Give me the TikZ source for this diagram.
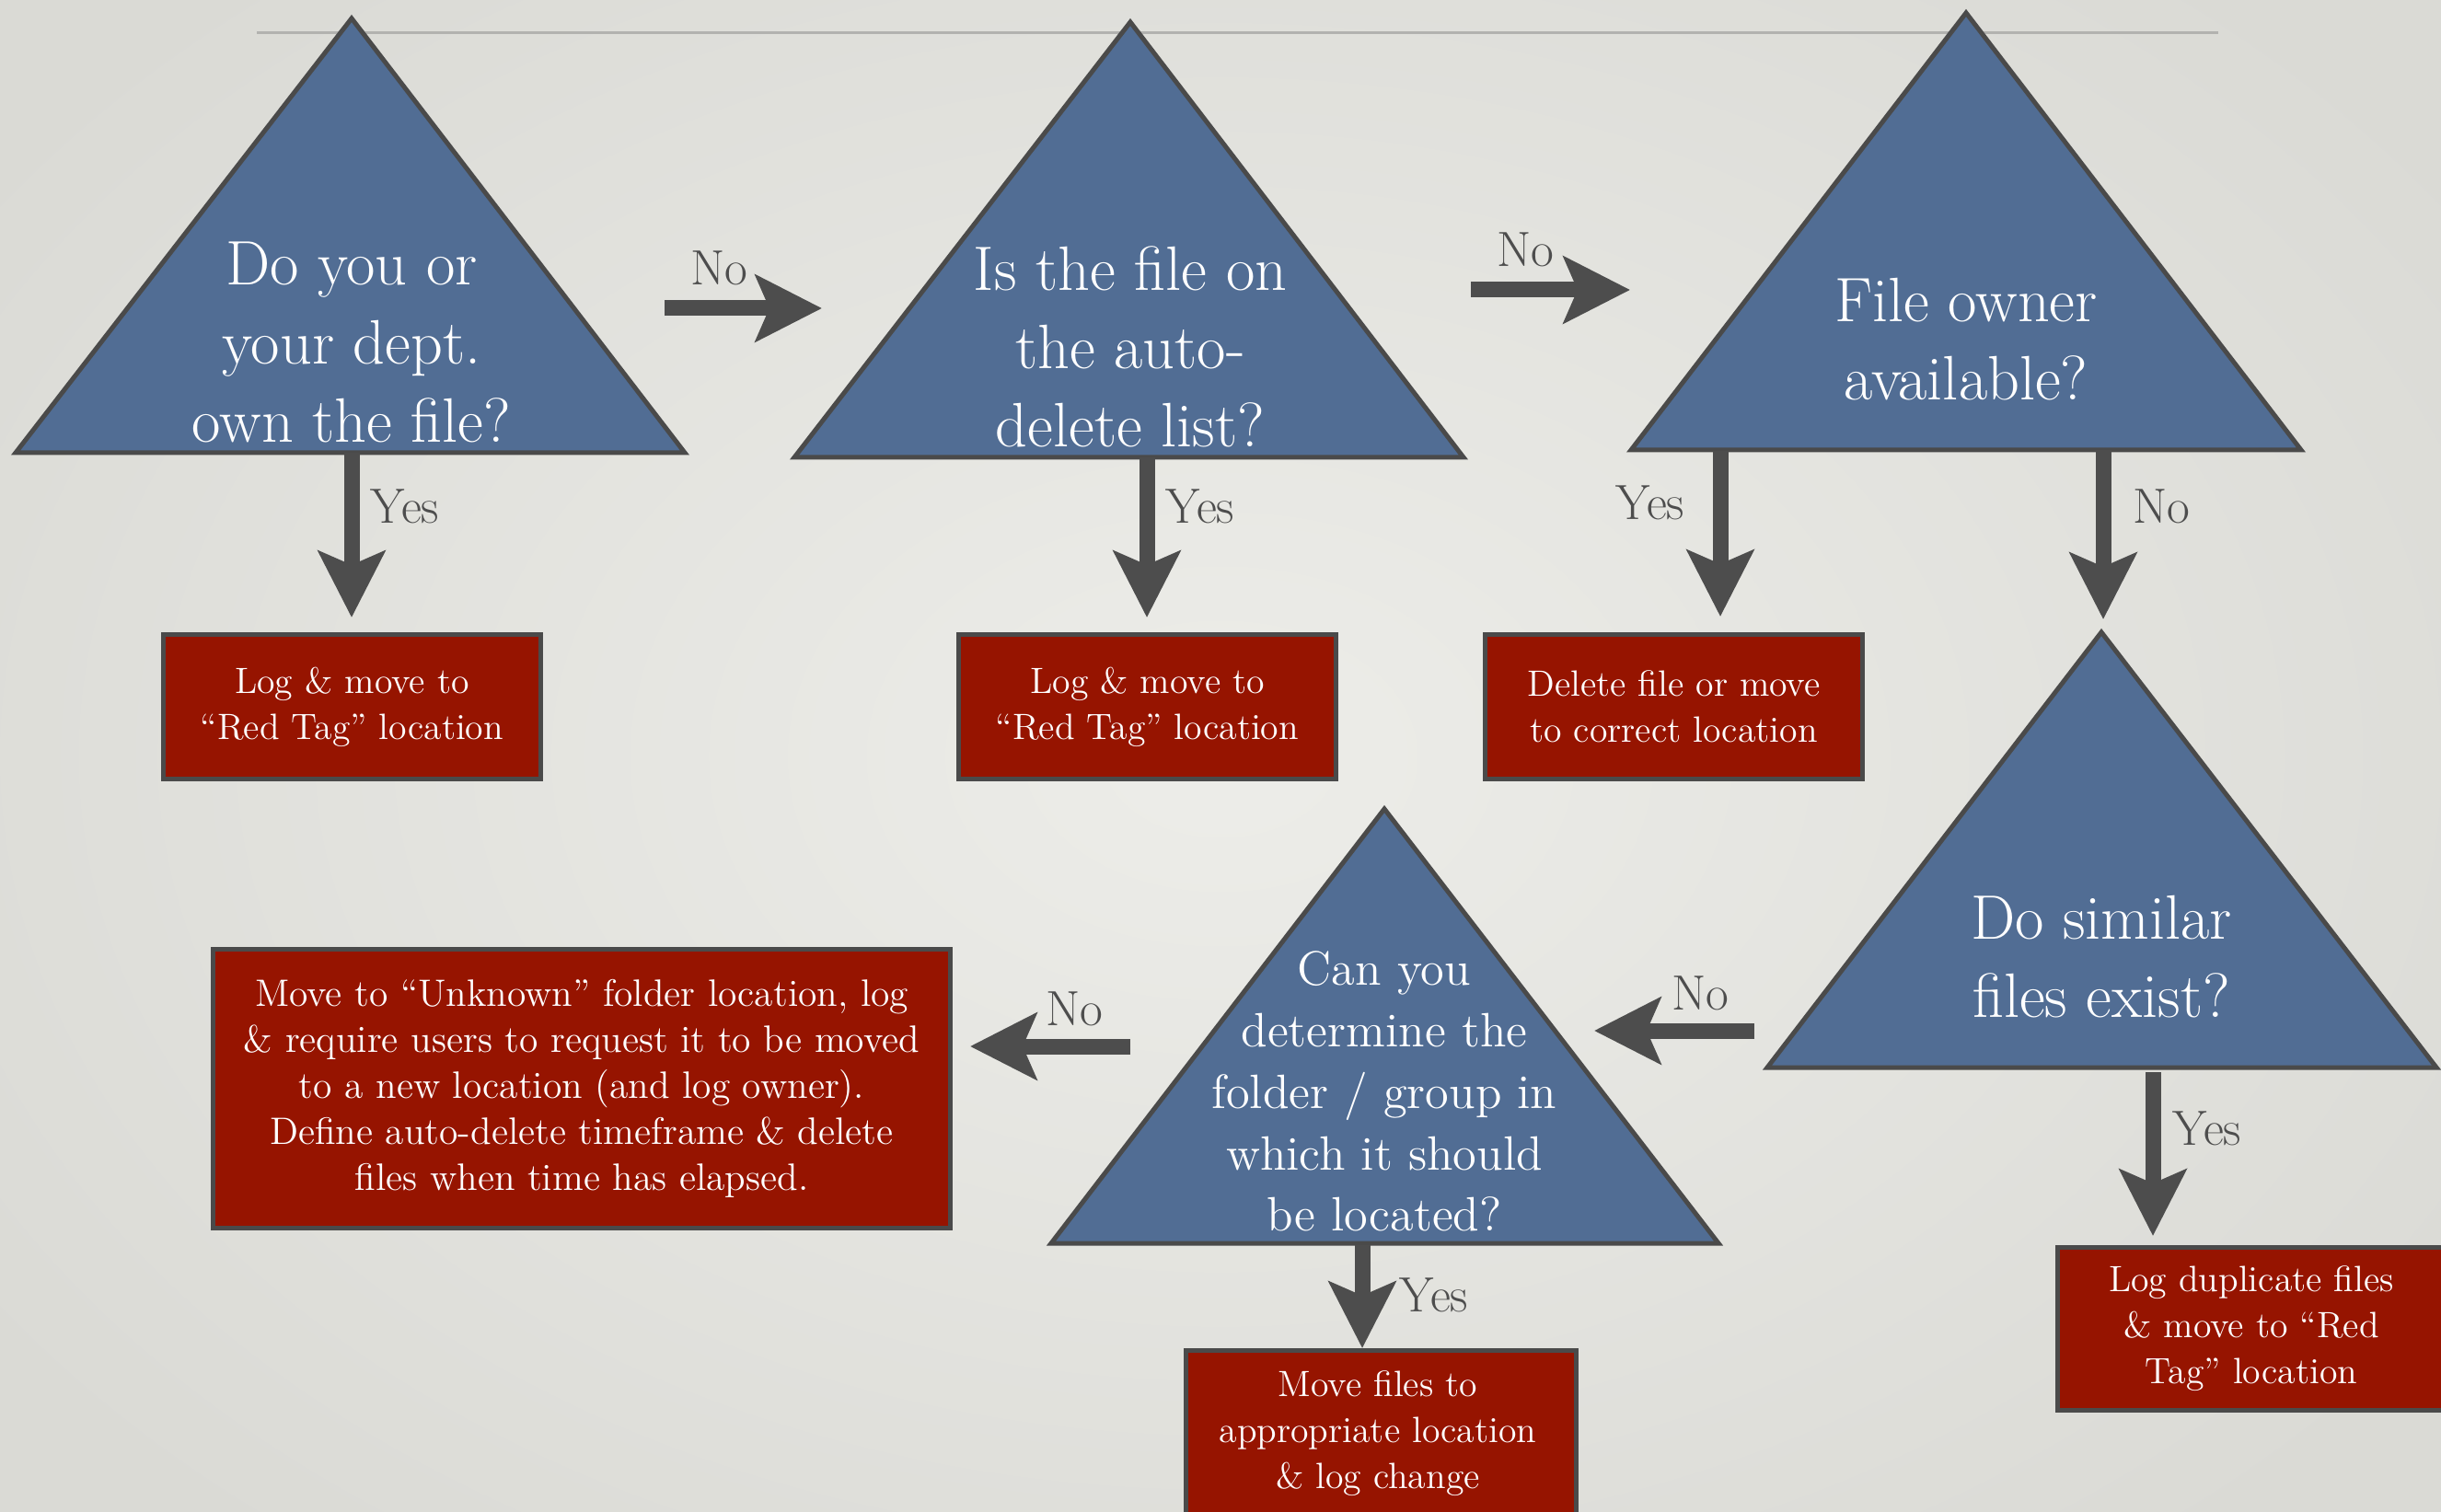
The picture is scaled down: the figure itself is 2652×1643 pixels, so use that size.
\documentclass[tikz,border=0pt]{standalone}
\usetikzlibrary{arrows.meta}
\definecolor{bgin}{RGB}{237,237,233}
\definecolor{bgout}{RGB}{218,218,213}
\definecolor{triblue}{RGB}{81,109,148}
\definecolor{edgegray}{RGB}{74,74,74}
\definecolor{boxred}{RGB}{150,20,0}
\definecolor{arrgray}{RGB}{77,77,77}
\definecolor{linegray}{RGB}{178,178,175}
\begin{document}
\begin{tikzpicture}[x=0.01cm,y=-0.01cm,
  tri/.style={fill=triblue, draw=edgegray, line width=0.05cm, line join=miter},
  redbox/.style={rectangle, fill=boxred, draw=edgegray, line width=0.05cm, inner sep=0pt},
  boxtext/.style={text=white, align=center, font=\fontsize{11.3}{14.2}\selectfont, inner sep=0pt},
  trtext/.style={text=white, align=center, font=\fontsize{19.4}{24.2}\selectfont, inner sep=0pt},
  trsmall/.style={text=white, align=center, font=\fontsize{14.9}{19}\selectfont, inner sep=0pt},
  arr/.style={draw=arrgray, line width=0.17cm, -{Stealth[length=0.72cm,width=0.72cm,inset=0.15cm,fill=arrgray]}},
  lbl/.style={text=arrgray, font=\fontsize{15.3}{18}\selectfont, inner sep=0pt}]
\useasboundingbox (0,0) rectangle (2652,1643);
\clip (0,0) rectangle (2652,1643);
\shade[inner color=bgin, outer color=bgout] (-300,-300) rectangle (2952,1943);
\draw[linegray, line width=0.03cm] (279,36) -- (2410,36);

% triangles
\draw[tri] (382,20) -- (744,492) -- (17,492) -- cycle;
\draw[tri] (1228,24) -- (1590,497) -- (863,497) -- cycle;
\draw[tri] (2136,14) -- (2500,489) -- (1772,489) -- cycle;
\draw[tri] (2283,687) -- (2647,1160) -- (1920,1160) -- cycle;
\draw[tri] (1504,879) -- (1867,1351) -- (1142,1351) -- cycle;

\node[trtext] (q1) at (382,372) {Do you or\\your dept.\\own the file?};
\node[trtext] (q2) at (1228,377) {Is the file on\\the auto-\\delete list?};
\node[trtext] (q3) at (2136,369) {File owner\\available?};
\node[trtext] (q4) at (2283,1040) {Do similar\\files exist?};
\node[trsmall] (q5) at (1504,1186) {Can you\\determine the\\folder / group in\\which it should\\be located?};

% boxes
\node[redbox, minimum width=4.09cm, minimum height=1.56cm] (b1) at (382.5,768) {};
\node[boxtext] (b1t) at (382.5,768) {Log \& move to\\“Red Tag” location};
\node[redbox, minimum width=4.09cm, minimum height=1.56cm] (b2) at (1246.5,768) {};
\node[boxtext] (b2t) at (1246.5,768) {Log \& move to\\“Red Tag” location};
\node[redbox, minimum width=4.09cm, minimum height=1.56cm] (b3) at (1818.5,768) {};
\node[boxtext] (b3t) at (1818.5,768) {Delete file or move\\to correct location};
\node[redbox, minimum width=8.00cm, minimum height=3.02cm] (b4) at (632,1183) {};
\node[boxtext, font=\fontsize{11.8}{14.2}\selectfont] (b4t) at (632,1183) {Move to “Unknown” folder location, log\\\& require users to request it to be moved\\to a new location (and log owner).\\Define auto-delete timeframe \& delete\\files when time has elapsed.};
\node[redbox, minimum width=4.23cm, minimum height=2.52cm] (b5) at (1500.5,1594) {};
\node[boxtext] (b5t) at (1497,1558) {Move files to\\appropriate location\\\& log change};
\node[redbox, minimum width=4.24cm, minimum height=1.76cm] (b6) at (2448,1444) {};
\node[boxtext] (b6t) at (2446,1444) {Log duplicate files\\\& move to “Red\\Tag” location};

% connector end points
\coordinate (a1s) at (722,335);   \coordinate (a1e) at (893,335);
\coordinate (a2s) at (1598,315);  \coordinate (a2e) at (1771,315);
\coordinate (a3s) at (382,492);   \coordinate (a3e) at (382,671);
\coordinate (a4s) at (1246,497);  \coordinate (a4e) at (1246,671);
\coordinate (a5s) at (1869,490);  \coordinate (a5e) at (1869,670);
\coordinate (a6s) at (2285,489);  \coordinate (a6e) at (2285,673);
\coordinate (a7s) at (2339,1165); \coordinate (a7e) at (2339,1343);
\coordinate (a8s) at (1906,1120); \coordinate (a8e) at (1732,1120);
\coordinate (a9s) at (1228,1137); \coordinate (a9e) at (1054,1137);
\coordinate (a10s) at (1480,1353); \coordinate (a10e) at (1480,1465);

\draw[arr] (a1s) -- (a1e);
\draw[arr] (a2s) -- (a2e);
\draw[arr] (a3s) -- (a3e);
\draw[arr] (a4s) -- (a4e);
\draw[arr] (a5s) -- (a5e);
\draw[arr] (a6s) -- (a6e);
\draw[arr] (a7s) -- (a7e);
\draw[arr] (a8s) -- (a8e);
\draw[arr] (a9s) -- (a9e);
\draw[arr] (a10s) -- (a10e);

\node[lbl] (l1) at (781,291) {No};
\node[lbl] (l2) at (1657,271) {No};
\node[lbl] (l3) at (440,550) {Yes};
\node[lbl] (l4) at (1304,550) {Yes};
\node[lbl] (l5) at (1793,546) {Yes};
\node[lbl] (l6) at (2348,550) {No};
\node[lbl] (l7) at (2398,1226) {Yes};
\node[lbl] (l8) at (1847,1079) {No};
\node[lbl] (l9) at (1167,1096) {No};
\node[lbl] (l10) at (1558,1407) {Yes};
\end{tikzpicture}
\end{document}
